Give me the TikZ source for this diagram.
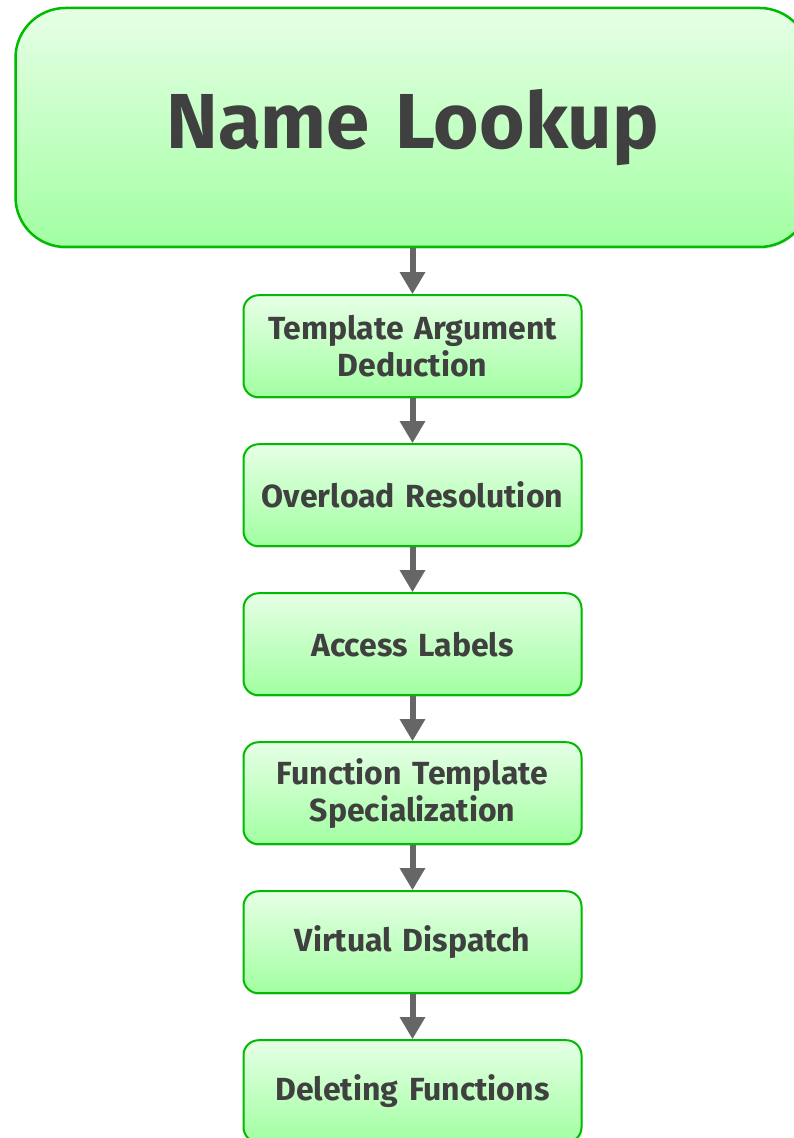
\documentclass[tikz,border=0pt]{standalone}
\usepackage{fontspec}
\setmainfont{Fira Sans}
\usepackage{tikz}
\usetikzlibrary{positioning,arrows.meta,shadows}

\definecolor{boxline}{HTML}{00BB00}
\definecolor{boxtop}{HTML}{E6FFE6}
\definecolor{boxbottom}{HTML}{A2FFA2}
\definecolor{labeltext}{HTML}{404040}
\definecolor{flowarrow}{HTML}{666666}

\tikzset{
    stagebox/.style={draw=boxline, line width=2pt, rounded corners=15pt,
        top color=boxtop, bottom color=boxbottom,
        minimum width=338pt, minimum height=102pt, text width=320pt, align=center,
        font=\fontsize{32}{37}\selectfont\bfseries, text=labeltext,
        drop shadow={opacity=0.2, shadow xshift=1pt, shadow yshift=-2pt}},
    headbox/.style={stagebox, rounded corners=50pt, line width=2.5pt,
        minimum width=794pt, minimum height=239pt, text width=700pt,
        font=\fontsize{78}{90}\selectfont\bfseries},
    flow/.style={draw=flowarrow, line width=6pt, -{Triangle[width=24pt,length=22pt]}}
}

\begin{document}
\begin{tikzpicture}[x=1pt,y=1pt, node distance=45pt]
    \useasboundingbox (0,0) rectangle (794,1138);
    \clip (0,0) rectangle (794,1138);

    % Lookup stages, top to bottom
    \node[headbox] (lookup) at (412.5,1010.5) {Name Lookup};
    \node[stagebox, below=46pt of lookup] (deduction) {Template Argument\\Deduction};
    \node[stagebox, below=of deduction] (overload) {Overload Resolution};
    \node[stagebox, below=of overload] (access) {Access Labels};
    \node[stagebox, below=of access] (special) {Function Template\\Specialization};
    \node[stagebox, below=of special] (dispatch) {Virtual Dispatch};
    \node[stagebox, below=of dispatch] (deleting) {Deleting Functions};

    % Arrows between stages
    \foreach \from/\to in {lookup/deduction, deduction/overload, overload/access,
                           access/special, special/dispatch, dispatch/deleting}
        \draw[flow] (\from.south) -- (\to.north);
\end{tikzpicture}
\end{document}
